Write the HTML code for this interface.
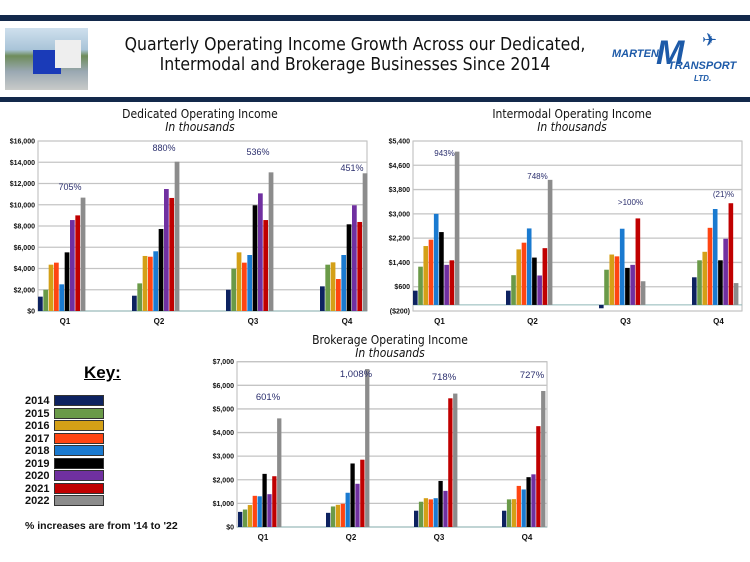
<!DOCTYPE html>
<html><head><meta charset="utf-8">
<style>
body{margin:0;width:750px;height:562px;background:#fff;position:relative;overflow:hidden;font-family:"Liberation Sans",sans-serif}
.abs{position:absolute}
.ttl{font-family:"DejaVu Sans Condensed","DejaVu Sans",sans-serif;color:#111;text-align:center}
.ct{font-family:"DejaVu Sans Condensed","DejaVu Sans",sans-serif;color:#111;font-size:12px;text-align:center;line-height:13px}
.ct i{display:block;font-size:12px}
.kl{font-weight:bold;font-size:11px;color:#111}
.sw{width:48px;height:9px;border:1px solid #333}
</style></head><body>
<div class="abs" style="left:0;top:15px;width:750px;height:6px;background:#13294b"></div>
<div class="abs" style="left:0;top:97px;width:750px;height:5px;background:#13294b"></div>
<div class="abs" style="left:5px;top:28px;width:83px;height:62px;background:linear-gradient(#cfe0ee 0,#a9c4d8 35%,#6e8c5a 45%,#9aa8b2 70%,#c9cbc9 100%)"><div style="position:absolute;left:28px;top:22px;width:28px;height:24px;background:#1a3bb8"></div><div style="position:absolute;left:50px;top:12px;width:26px;height:28px;background:#eee"></div></div>
<div class="abs ttl" style="left:100px;top:35px;width:510px;font-size:17.5px;line-height:20px">Quarterly Operating Income Growth Across our Dedicated,<br>Intermodal and Brokerage Businesses Since 2014</div>
<div class="abs" style="left:612px;top:30px;width:115px;height:55px;">
 <div style="position:absolute;left:0;top:18px;font:italic bold 11px 'Liberation Sans';color:#1d5aa8">MARTEN</div>
 <div style="position:absolute;left:44px;top:4px;font:italic bold 34px 'Liberation Sans';color:#1d5aa8">M</div>
 <div style="position:absolute;left:56px;top:30px;font:italic bold 11px 'Liberation Sans';color:#1d5aa8">TRANSPORT</div>
 <div style="position:absolute;left:82px;top:44px;font:italic bold 8px 'Liberation Sans';color:#1d5aa8">LTD.</div>
 <div style="position:absolute;left:90px;top:0;font:18px 'DejaVu Sans';color:#1d5aa8">✈</div>
</div>
<div class="abs ct" style="left:80px;top:108px;width:240px">Dedicated Operating Income<i>In thousands</i></div>
<div class="abs ct" style="left:452px;top:108px;width:240px">Intermodal Operating Income<i>In thousands</i></div>
<div class="abs ct" style="left:270px;top:334px;width:240px">Brokerage Operating Income<i>In thousands</i></div>

<div class="abs" style="left:84px;top:363px;font-weight:bold;font-size:17px;text-decoration:underline">Key:</div>
<div id="key"></div>
<div class="abs kl" style="left:25px;top:520px;font-size:10.5px">% increases are from '14 to '22</div>

<svg id="svg" width="750" height="562" style="position:absolute;left:0;top:0"></svg>
<script>
const years=["2014","2015","2016","2017","2018","2019","2020","2021","2022"];
const colors=["#0d2260","#6a9a48","#d4a017","#ff4512","#1a7ad0","#000000","#7030a0","#c00000","#8c8c8c"];
const quarters=["Q1","Q2","Q3","Q4"];
const dedQ1=[1350,2000,4360,4550,2510,5520,8560,9000,10670];
const dedQ2=[1440,2600,5180,5110,5620,7720,11480,10640,14050];
const dedQ3=[2000,3980,5520,4550,5270,9950,11070,8560,13050];
const dedQ4=[2320,4360,4580,3010,5270,8160,9950,8380,12960];
const dedTicks=[0,2000,4000,6000,8000,10000,12000,14000,16000];
const dedTickLabels=["$0","$2,000","$4,000","$6,000","$8,000","$10,000","$12,000","$14,000","$16,000"];
const dedPct=["705%","880%","536%","451%"];
const dedPctY=[11390,15060,14680,13180];
const intQ1=[470,1260,1940,2150,3000,2400,1320,1470,5050];
const intQ2=[470,980,1830,2050,2520,1560,970,1870,4120];
const intQ3=[-110,1160,1660,1600,2510,1220,1320,2850,780];
const intQ4=[910,1470,1750,2540,3160,1470,2180,3350,720];
const intTicks=[-200,600,1400,2200,3000,3800,4600,5400];
const intTickLabels=["($200)","$600","$1,400","$2,200","$3,000","$3,800","$4,600","$5,400"];
const intPct=["943%","748%",">100%","(21)%"];
const intPctY=[4905,4150,3290,3555];
const broQ1=[640,740,930,1320,1300,2250,1390,2150,4600];
const broQ2=[600,870,940,985,1450,2690,1830,2850,6690];
const broQ3=[690,1070,1220,1170,1220,1950,1530,5450,5650];
const broQ4=[690,1170,1180,1740,1590,2110,2230,4270,5760];
const broTicks=[0,1000,2000,3000,4000,5000,6000,7000];
const broTickLabels=["$0","$1,000","$2,000","$3,000","$4,000","$5,000","$6,000","$7,000"];
const broPct=["601%","1,008%","718%","727%"];
const broPctY=[5380,6350,6225,6310];

const NS="http://www.w3.org/2000/svg";
const svg=document.getElementById('svg');
function mk(tag,attrs,parent){const e=document.createElementNS(NS,tag);for(const k in attrs)e.setAttribute(k,attrs[k]);(parent||svg).appendChild(e);return e;}

function chart(name,cfg,series,ticks,tickLabels,pct,pctY){
  const g=mk('g',{});
  
  
  const y=v=>cfg.bottom-(v-cfg.min)/(cfg.max-cfg.min)*(cfg.bottom-cfg.top);
  const gx=i=>cfg.gs+i*cfg.step;
  const bw=(cfg.gw)/9;
  const bg=mk('rect',{x:cfg.left,y:cfg.top,width:cfg.right-cfg.left,height:cfg.bottom-cfg.top,fill:'#fff',stroke:'#b8b8b8','stroke-width':1},g);
  
  
  ticks.forEach((t,i)=>{
    const gl=mk('line',{x1:cfg.left,x2:cfg.right,y1:y(t),y2:y(t),stroke:'#c4c4c4','stroke-width':1.3},g);
    
    
    const tl=mk('text',{x:cfg.left-3,y:y(t)+2.5,'text-anchor':'end','font-size':7,'font-weight':'bold','font-family':'Liberation Sans',fill:'#111'},g);
    tl.textContent=tickLabels[i];
    
    
  });
  const ax=mk('line',{x1:cfg.left,x2:cfg.right,y1:y(0),y2:y(0),stroke:'#8fb8b8','stroke-width':1},g);
  
  
  series.forEach((vals,qi)=>{
    vals.forEach((v,bi)=>{
      const x0=gx(qi)+bi*bw;
      const r=mk('rect',{x:x0,y:Math.min(y(v),y(0)),width:bw-0.6,height:Math.abs(y(v)-y(0)),fill:colors[bi]},g);
      
      
    });
    const cx=gx(qi)+cfg.gw/2;
    const ql=mk('text',{x:cx+3,y:cfg.bottom+13,'text-anchor':'middle','font-size':8,'font-weight':'bold','font-family':'Liberation Sans',fill:'#111'},g);
    ql.textContent=quarters[qi];
    
    
    const pl=mk('text',{x:cx+8,y:y(pctY[qi]),'text-anchor':'middle','font-size':cfg.pf,'font-family':'Liberation Sans',fill:'#2b2f6e'},g);
    pl.textContent=pct[qi];
    
    
  });
}
chart('dedicated-chart',{left:38,right:367,gs:38,top:141,bottom:311,min:0,max:16000,step:94,gw:48,pf:9},[dedQ1,dedQ2,dedQ3,dedQ4],dedTicks,dedTickLabels,dedPct,dedPctY);
chart('intermodal-chart',{left:413,right:742,gs:413,top:141,bottom:311,min:-200,max:5400,step:93,gw:47,pf:8},[intQ1,intQ2,intQ3,intQ4],intTicks,intTickLabels,intPct,intPctY);
chart('brokerage-chart',{left:237,right:547,gs:238,top:361.7,bottom:527,min:0,max:7000,step:88,gw:44,pf:9.5},[broQ1,broQ2,broQ3,broQ4],broTicks,broTickLabels,broPct,broPctY);

const key=document.getElementById('key');
years.forEach((yr,i)=>{
  const row=document.createElement('div');
  row.className='abs';
  row.style.cssText='left:25px;top:'+(395+i*12.5)+'px;height:12px;';
  
  
  row.innerHTML='<span class="kl" style="position:absolute;left:0;top:0">'+yr+'</span><div class="sw" style="position:absolute;left:29px;top:0;background:'+colors[i]+'"></div>';
  key.appendChild(row);
});
</script>
</body></html>
